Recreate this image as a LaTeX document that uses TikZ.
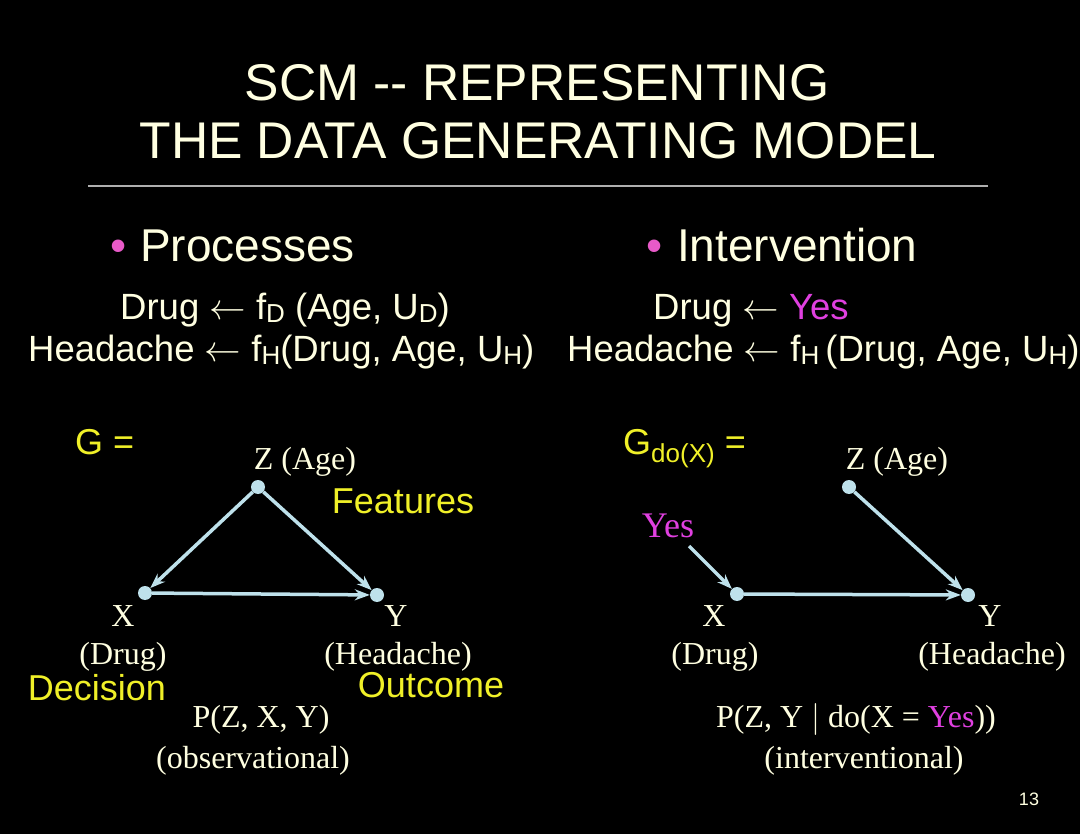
\RequirePackage{fix-cm}
\documentclass[tikz,border=0pt]{standalone}
\usepackage{fontspec}
\setmainfont{Liberation Serif}
\newfontfamily\arial{Liberation Sans}
\usetikzlibrary{arrows.meta}
\definecolor{cream}{RGB}{255,255,225}
\definecolor{ylw}{RGB}{240,240,40}
\definecolor{mag}{RGB}{224,64,224}
\definecolor{bul}{RGB}{232,90,200}
\definecolor{arr}{RGB}{190,225,235}
\definecolor{rulec}{RGB}{175,175,175}
\newcommand{\sub}[1]{\raisebox{-0.07em}{\fontsize{26}{26}\selectfont #1}}
\newcommand{\myarrow}{ $\leftarrow$ }
\begin{document}
\begin{tikzpicture}[x=1pt,y=-1pt,
  title/.style={text=cream,font=\arial\fontsize{51.6}{52}\selectfont,anchor=base,inner sep=0},
  bullettxt/.style={text=cream,font=\arial\fontsize{46}{46}\selectfont,anchor=base west,inner sep=0},
  eq/.style={text=cream,font=\arial\fontsize{36.5}{37}\selectfont,anchor=base west,inner sep=0},
  ylab/.style={text=ylw,font=\arial\fontsize{36}{37}\selectfont,anchor=base,inner sep=0},
  slab/.style={text=cream,font=\fontsize{32}{33}\selectfont,anchor=base,inner sep=0},
  dotn/.style={circle,fill=arr,minimum size=14pt,inner sep=0},
  edge/.style={draw=arr,line width=3.5pt,-{Stealth[length=15pt,width=11pt]}}
]
\useasboundingbox[fill=black] (0,0) rectangle (1080,834);
% title
\node[title] (t1) at (537,101) {SCM -- REPRESENTING};
\node[title] (t2) at (538,159) {THE DATA GENERATING MODEL};
\coordinate (r1) at (88,186);
\coordinate (r2) at (988,186);
\draw[rulec,line width=1.5pt] (r1) -- (r2);
% bullets
\node[bullettxt,text=bul] (b1) at (110,262) {\textbullet};
\node[bullettxt] (proc) at (140,262) {Processes};
\node[bullettxt,text=bul] (b2) at (646,262) {\textbullet};
\node[bullettxt] (interv) at (677,262) {Intervention};
% equations
\node[eq] (e1) at (120,320) {Drug\myarrow f\sub{D} (Age, U\sub{D})};
\node[eq] (e2) at (28,362) {Headache\myarrow f\sub{H}(Drug, Age, U\sub{H})};
\node[eq] (e3) at (653,320) {Drug\myarrow\textcolor{mag}{Yes}};
\node[eq] (e4) at (567,362) {Headache\myarrow f\sub{H}\,(Drug, Age, U\sub{H})};
% left graph
\node[ylab,anchor=base west] (g) at (75,455) {G =};
\node[dotn] (zl) at (258,487) {};
\node[dotn] (xl) at (145,593) {};
\node[dotn] (yl) at (377,595) {};
\draw[edge] (zl) -- (xl);
\draw[edge] (zl) -- (yl);
\draw[edge] (xl) -- (yl);
\node[slab] (zlab) at (305,470) {Z (Age)};
\node[ylab] (feat) at (403,513) {Features};
\node[slab] (xlab) at (123,626) {X};
\node[slab] (xdrug) at (123,664) {(Drug)};
\node[slab] (ylab) at (396,626) {Y};
\node[slab] (yhead) at (398,664) {(Headache)};
\node[ylab] (dec) at (97,700) {Decision};
\node[ylab] (out) at (431,697) {Outcome};
\node[slab] (pobs) at (261,727) {P(Z, X, Y)};
\node[slab] (obs) at (253,768) {(observational)};
% right graph
\node[ylab,anchor=base west] (gdo) at (623,455) {G\raisebox{-0.2em}{\fontsize{26}{26}\selectfont do(X)} =};
\node[dotn] (zr) at (849,487) {};
\node[dotn] (xr) at (737,594) {};
\node[dotn] (yr) at (968,595) {};
\node[text=mag,font=\fontsize{36}{37}\selectfont,anchor=base,inner sep=0] (yes) at (668,537) {Yes};
\coordinate (yesend) at (689,546);
\draw[edge] (yesend) -- (xr);
\draw[edge] (zr) -- (yr);
\draw[edge] (xr) -- (yr);
\node[slab] (zlab2) at (897,470) {Z (Age)};
\node[slab] (xlab2) at (714,626) {X};
\node[slab] (xdrug2) at (715,664) {(Drug)};
\node[slab] (ylab2) at (990,626) {Y};
\node[slab] (yhead2) at (992,664) {(Headache)};
\node[slab] (pint) at (856,727) {P(Z, Y $|$ do(X = \textcolor{mag}{Yes}))};
\node[slab] (intv) at (864,768) {(interventional)};
\node[text=cream,font=\arial\fontsize{18}{18}\selectfont,anchor=base,inner sep=0] (num) at (1029,805) {13};
\end{tikzpicture}
\end{document}
